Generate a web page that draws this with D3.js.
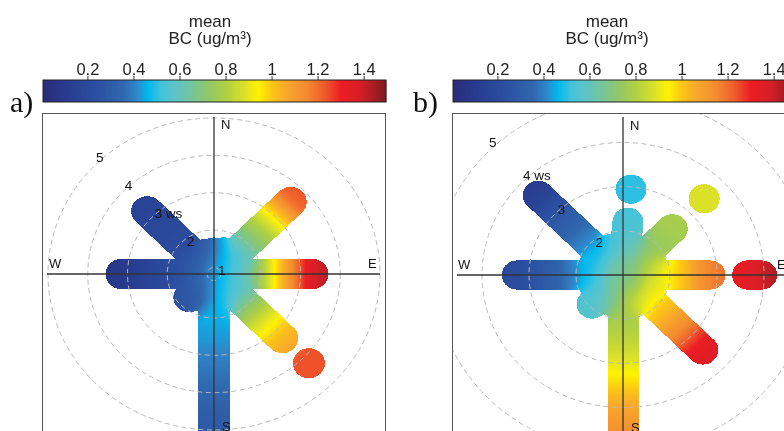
<!DOCTYPE html>
<html>
<head>
<meta charset="utf-8">
<script src="https://cdn.jsdelivr.net/npm/d3@7"></script>
<style>
  html, body { margin: 0; padding: 0; background: #fff; }
  #wrap { position: relative; width: 784px; height: 431px; overflow: hidden; }
  #wrap canvas, #wrap svg { position: absolute; left: 0; top: 0; }
</style>
</head>
<body>
<div id="wrap">
  <canvas id="surface" width="784" height="431"></canvas>
  <svg id="chart" width="784" height="431"></svg>
</div>
<script>
// ---- colour key ----
const bcTicks = [0.2, 0.4, 0.6, 0.8, 1, 1.2, 1.4];
const bcDomain = [0.005, 1.495];
const rampStops = [0, 0.1, 0.22, 0.35, 0.41, 0.46, 0.52, 0.58, 0.65, 0.72, 0.8, 0.88, 0.94, 1.0, 1.06, 1.15, 1.23, 1.3, 1.38, 1.45, 1.5];
const rampColours = ["#2a2a78", "#283b8e", "#2b4d9f", "#3066ad", "#2f86c8", "#00b9ef", "#43c3db", "#5ec4c6", "#74c59c", "#8fc76a",
  "#b0d043", "#dbe128", "#fff200", "#fcc516", "#f8a92b", "#f48a2f", "#ef5a2c", "#ec1c24", "#d81f26", "#a21c22", "#7a1a1c"];

// ---- wind speed rings ----
const ringWs = [1, 2, 3, 4, 5];
const compass = ["N", "E", "S", "W"];

// ---- panel a: mean BC by wind direction (deg) and wind speed (m/s) ----
const wdA = [0, 22.5, 45, 67.5, 90, 112.5, 135, 157.5, 180, 202.5, 225, 247.5, 270, 292.5, 315, 337.5];
const wsA = [
  [1, 1.2, 1.4],
  [1, 1.2, 1.45],
  [1, 1.25, 1.5, 1.75, 2, 2.25, 2.5, 2.75, 3, 3.25, 3.55],
  [1, 1.25, 1.45],
  [1, 1.25, 1.5, 1.75, 2, 2.25, 2.5, 2.75, 3, 3.3],
  [1, 1.25, 1.45],
  [1, 1.25, 1.5, 1.75, 2, 2.25, 2.5, 2.75, 3, 3.25, 4.2],
  [1, 1.25, 1.45],
  [1, 1.25, 1.5, 1.75, 2, 2.25, 2.5, 2.75, 3, 3.25, 3.5, 3.75, 4, 4.25, 4.5, 4.75, 5, 5.25, 5.5],
  [1, 1.25, 1.5],
  [1, 1.25, 1.5, 1.7],
  [1, 1.25, 1.45],
  [1, 1.25, 1.5, 1.75, 2, 2.25, 2.5, 2.75, 3, 3.15],
  [1, 1.25, 1.45],
  [1, 1.25, 1.5, 1.75, 2, 2.25, 2.5, 2.75, 3, 3.2],
  [1, 1.2, 1.4]
];
const bcA = [
  [0.42, 0.38, 0.36],
  [0.45, 0.46, 0.47],
  [0.47, 0.5, 0.55, 0.6, 0.66, 0.72, 0.79, 0.87, 0.96, 1.08, 1.24],
  [0.49, 0.53, 0.58],
  [0.5, 0.55, 0.6, 0.66, 0.76, 0.9, 1.02, 1.12, 1.25, 1.42],
  [0.49, 0.53, 0.58],
  [0.48, 0.52, 0.56, 0.62, 0.7, 0.78, 0.86, 0.92, 0.98, 1.06, 1.24],
  [0.46, 0.48, 0.5],
  [0.44, 0.45, 0.46, 0.46, 0.45, 0.44, 0.43, 0.42, 0.4, 0.39, 0.37, 0.36, 0.35, 0.33, 0.31, 0.3, 0.28, 0.27, 0.26],
  [0.4, 0.36, 0.32],
  [0.38, 0.32, 0.28, 0.25],
  [0.36, 0.3, 0.26],
  [0.36, 0.29, 0.25, 0.22, 0.2, 0.18, 0.16, 0.13, 0.1, 0.07],
  [0.37, 0.3, 0.26],
  [0.38, 0.3, 0.25, 0.22, 0.2, 0.2, 0.19, 0.18, 0.17, 0.15],
  [0.4, 0.34, 0.3]
];

// ---- panel b ----
const wdB = [5, 22.5, 45, 67.5, 90, 112.5, 135, 157.5, 180, 202.5, 225, 247.5, 270, 292.5, 315, 337.5];
const wsB = [
  [1, 1.25, 1.5, 1.75, 2, 2.2, 2.95],
  [1, 1.25, 1.5, 1.65],
  [1, 1.25, 1.5, 1.75, 2, 2.25, 2.48, 3.44],
  [1, 1.25, 1.5, 1.65],
  [1, 1.25, 1.5, 1.75, 2, 2.25, 2.5, 2.75, 2.85, 3.65, 3.8, 3.95],
  [1, 1.25, 1.5, 1.65],
  [1, 1.25, 1.5, 1.75, 2, 2.25, 2.5, 2.75, 3, 3.25, 3.4],
  [1, 1.25, 1.5, 1.65],
  [1, 1.25, 1.5, 1.75, 2, 2.25, 2.5, 2.75, 3, 3.25, 3.5, 3.75, 4, 4.25, 4.5, 4.75, 5, 5.25, 5.5],
  [1, 1.25, 1.5, 1.65],
  [1, 1.25, 1.5, 1.75, 1.93],
  [1, 1.25, 1.5, 1.65],
  [1, 1.25, 1.5, 1.75, 2, 2.25, 2.5, 2.75, 3, 3.25],
  [1, 1.25, 1.5, 1.65],
  [1, 1.25, 1.5, 1.75, 2, 2.25, 2.5, 2.75, 3, 3.25, 3.55],
  [1, 1.25, 1.5, 1.65]
];
const bcB = [
  [0.66, 0.62, 0.58, 0.55, 0.54, 0.53, 0.5],
  [0.66, 0.64, 0.62, 0.62],
  [0.68, 0.69, 0.7, 0.72, 0.74, 0.76, 0.78, 0.88],
  [0.7, 0.76, 0.82, 0.87],
  [0.7, 0.76, 0.83, 0.9, 0.95, 1.0, 1.06, 1.13, 1.2, 1.3, 1.34, 1.45],
  [0.72, 0.8, 0.88, 0.93],
  [0.72, 0.78, 0.85, 0.92, 0.98, 1.03, 1.08, 1.15, 1.22, 1.3, 1.36],
  [0.72, 0.78, 0.84, 0.88],
  [0.72, 0.74, 0.75, 0.77, 0.78, 0.8, 0.83, 0.86, 0.9, 0.94, 0.98, 1.03, 1.07, 1.1, 1.13, 1.16, 1.2, 1.23, 1.26],
  [0.7, 0.68, 0.66, 0.64],
  [0.68, 0.64, 0.6, 0.57, 0.55],
  [0.64, 0.58, 0.52, 0.48],
  [0.62, 0.58, 0.52, 0.47, 0.42, 0.36, 0.31, 0.27, 0.24, 0.2],
  [0.62, 0.56, 0.5, 0.46],
  [0.6, 0.55, 0.5, 0.46, 0.42, 0.38, 0.34, 0.3, 0.26, 0.2, 0.12],
  [0.64, 0.6, 0.55, 0.5]
];

// ---- layout ----
const W = 784, H = 431;
const boxSize = 343, boxTop = 113;
const ky = 0.94;          // vertical aspect of the polar frame
const sigma = 9;          // smoothing length of the surface (px)
const joinGap = 0.35;     // wind-speed gap that still joins neighbouring bins

const colour = d3.scaleLinear().domain(rampStops).range(rampColours)
  .interpolate(d3.interpolateRgb).clamp(true);

const panels = [
  { tag: "a)", tagX: 10, x0: 42, cx: 214, cy: 274, titleX: 210, barX: 43,
    r: d3.scaleLinear().domain([1, 5]).range([7, 166]), unitRing: 3, mask: 16,
    wd: wdA, ws: wsA, bc: bcA },
  { tag: "b)", tagX: 413, x0: 452, cx: 623, cy: 275, titleX: 607, barX: 453,
    r: d3.scaleLinear().domain([1, 5]).range([0, 188]), unitRing: 4, mask: 15.5,
    wd: wdB, ws: wsB, bc: bcB }
];

// colour lookup table
const lutN = 1024;
const lut = new Uint8ClampedArray(lutN * 3);
const lutScale = d3.scaleLinear().domain([0, lutN - 1]).range([0, 1.5]);
for (let i = 0; i < lutN; i++) {
  const c = d3.rgb(colour(lutScale(i)));
  lut[i * 3] = c.r; lut[i * 3 + 1] = c.g; lut[i * 3 + 2] = c.b;
}

// ---- smoothed, masked surface ----
const canvas = document.getElementById("surface");
const ctx = canvas.getContext("2d");
const img = ctx.createImageData(W, H);

function paintSurface(p) {
  const pts = [], segs = [];
  p.wd.forEach((wd, i) => {
    const th = wd * Math.PI / 180;
    let prev = null;
    p.ws[i].forEach((ws, j) => {
      const rr = p.r(ws);
      const s = { x: rr * Math.sin(th), y: -rr * Math.cos(th), v: p.bc[i][j], ws: ws };
      pts.push(s);
      segs.push([s, s]);
      if (prev && ws - prev.ws <= joinGap) segs.push([prev, s]);
      prev = s;
    });
  });
  const R2 = p.mask * p.mask, two2 = 2 * sigma * sigma;
  const xa = p.x0 + 1, xb = p.x0 + boxSize - 1;
  const ya = boxTop + 1, yb = Math.min(H, boxTop + boxSize - 1);
  for (let py = ya; py < yb; py++) {
    const v = (py + 0.5 - p.cy) / ky;
    for (let px = xa; px < xb && px < W; px++) {
      const u = px + 0.5 - p.cx;
      let inside = false;
      for (let k = 0; k < segs.length; k++) {
        const a = segs[k][0], b = segs[k][1];
        const dx = b.x - a.x, dy = b.y - a.y;
        const L = dx * dx + dy * dy;
        let t = L > 0 ? ((u - a.x) * dx + (v - a.y) * dy) / L : 0;
        t = t < 0 ? 0 : t > 1 ? 1 : t;
        const ex = a.x + t * dx - u, ey = a.y + t * dy - v;
        if (ex * ex + ey * ey <= R2) { inside = true; break; }
      }
      if (!inside) continue;
      let sw = 0, sv = 0;
      for (let k = 0; k < pts.length; k++) {
        const dx = pts[k].x - u, dy = pts[k].y - v;
        const w = Math.exp(-(dx * dx + dy * dy) / two2) + 1e-12;
        sw += w; sv += w * pts[k].v;
      }
      const val = sv / sw;
      const li = Math.max(0, Math.min(lutN - 1, Math.round(lutScale.invert(val))));
      const o = (py * W + px) * 4;
      img.data[o] = lut[li * 3]; img.data[o + 1] = lut[li * 3 + 1]; img.data[o + 2] = lut[li * 3 + 2];
      img.data[o + 3] = 255;
    }
  }
}
panels.forEach(paintSurface);
ctx.putImageData(img, 0, 0);

// ---- vector layer ----
const svg = d3.select("#chart");
const defs = svg.append("defs");
const sans = "'Liberation Sans', Arial, sans-serif";

panels.forEach((p, pi) => {
  // colour key
  const bx = d3.scaleLinear().domain(bcDomain).range([p.barX, p.barX + boxSize]);
  const key = svg.append("g");
  key.selectAll("rect.cell").data(d3.range(boxSize)).join("rect")
    .attr("x", i => p.barX + i).attr("y", 80).attr("width", 1.3).attr("height", 22)
    .attr("fill", i => colour(bx.invert(p.barX + i + 0.5)));
  key.append("rect").attr("x", p.barX).attr("y", 80).attr("width", boxSize).attr("height", 22)
    .attr("fill", "none").attr("stroke", "#222").attr("stroke-width", 1);
  key.selectAll("line.tick").data(bcTicks).join("line")
    .attr("x1", d => bx(d)).attr("x2", d => bx(d)).attr("y1", 76).attr("y2", 80)
    .attr("stroke", "#333").attr("stroke-width", 1);
  key.selectAll("text.tick").data(bcTicks).join("text")
    .attr("x", d => bx(d)).attr("y", 74.5).attr("text-anchor", "middle")
    .attr("font-family", sans).attr("font-size", 16.5).attr("fill", "#222")
    .text(d => d3.format("~g")(d));
  key.append("text").attr("x", p.titleX).attr("y", 27).attr("text-anchor", "middle")
    .attr("font-family", sans).attr("font-size", 17).attr("fill", "#222").text("mean");
  key.append("text").attr("x", p.titleX).attr("y", 44).attr("text-anchor", "middle")
    .attr("font-family", sans).attr("font-size", 17).attr("fill", "#222").text("BC (ug/m³)");

  // panel tag
  svg.append("text").attr("x", p.tagX).attr("y", 112)
    .attr("font-family", "'Liberation Serif', 'Times New Roman', serif").attr("font-size", 30)
    .attr("fill", "#111").text(p.tag);

  // polar frame
  const clipId = "clip" + pi;
  defs.append("clipPath").attr("id", clipId).append("rect")
    .attr("x", p.x0).attr("y", boxTop).attr("width", boxSize).attr("height", boxSize);
  const g = svg.append("g").attr("clip-path", `url(#${clipId})`);

  g.selectAll("ellipse.ring").data(ringWs.filter(d => p.r(d) > 1)).join("ellipse")
    .attr("cx", p.cx).attr("cy", p.cy)
    .attr("rx", d => p.r(d)).attr("ry", d => p.r(d) * ky)
    .attr("fill", "none").attr("stroke", "#b8b8b8").attr("stroke-width", 1)
    .attr("stroke-dasharray", "5,3.5");

  g.append("line").attr("x1", p.cx).attr("x2", p.cx).attr("y1", boxTop + 4).attr("y2", boxTop + boxSize)
    .attr("stroke", "#333").attr("stroke-width", 1.3);
  g.append("line").attr("x1", p.x0 + 5).attr("x2", p.x0 + boxSize - 5).attr("y1", p.cy).attr("y2", p.cy)
    .attr("stroke", "#333").attr("stroke-width", 1.3);

  // ring labels along the north-west diagonal
  const th = -Math.PI / 4;
  g.selectAll("text.ring").data(ringWs.filter(d => p.r(d) > 1)).join("text")
    .attr("x", d => {
      const rr = p.r(d);
      if (rr < 20) return p.cx + 4;
      return p.cx + rr * Math.sin(th) + 430 / rr + 0.5 - 3.8;
    })
    .attr("y", d => {
      const rr = p.r(d);
      if (rr < 20) return p.cy + 1;
      return p.cy - rr * Math.cos(th) + 5;
    })
    .attr("font-family", sans).attr("font-size", 13.5).attr("fill", "#111")
    .text(d => d === p.unitRing ? `${d} ws` : `${d}`);

  // compass points
  const cpos = { N: [7, -145], E: [154, -6], S: [8, 157], W: [-165, -6] };
  g.selectAll("text.cmp").data(compass).join("text")
    .attr("x", d => p.cx + cpos[d][0]).attr("y", d => p.cy + cpos[d][1])
    .attr("font-family", sans).attr("font-size", 13).attr("fill", "#111")
    .text(d => d);

  svg.append("rect").attr("x", p.x0 + 0.5).attr("y", boxTop + 0.5)
    .attr("width", boxSize).attr("height", boxSize)
    .attr("fill", "none").attr("stroke", "#555").attr("stroke-width", 1);
});
</script>
</body>
</html>
